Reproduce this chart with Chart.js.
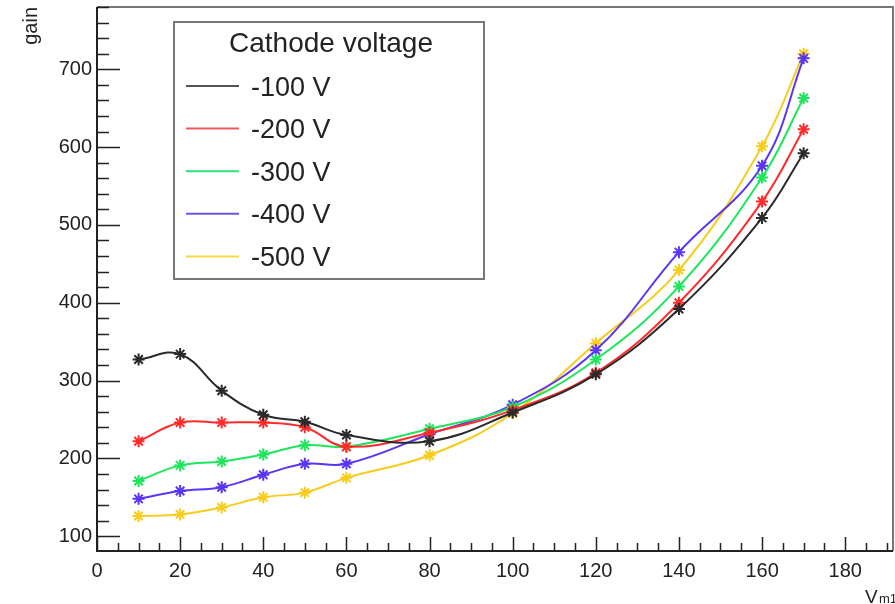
<!DOCTYPE html>
<html>
<head>
<meta charset="utf-8">
<title>gain vs Vm1</title>
<script src="https://cdn.jsdelivr.net/npm/chart.js@4.4.0/dist/chart.umd.min.js"></script>
<style>
  html, body { margin: 0; padding: 0; background: #fff; }
  #gainChart { display: block; }
</style>
</head>
<body>
<canvas id="gainChart" width="895" height="604"></canvas>
<script>
// Vm1 values where the gain was measured
const vm1 = [10, 20, 30, 40, 50, 60, 80, 100, 120, 140, 160, 170]

// gain for each cathode voltage
const gain100 = [327, 334, 287, 256, 247, 230, 222, 259, 308, 392, 509, 592]
const gain200 = [222, 246, 246, 246, 240, 215, 233, 262, 310, 400, 530, 623]
const gain300 = [171, 191, 196, 205, 217, 215, 238, 266, 327, 421, 561, 663]
const gain400 = [148, 158, 163, 179, 193, 193, 231, 269, 339, 465, 576, 714]
const gain500 = [126, 128, 137, 150, 156, 175, 204, 258, 348, 442, 601, 720]

const seriesLabels = ['-100 V', '-200 V', '-300 V', '-400 V', '-500 V']
const seriesColors = ['#2a2a2a', '#ff2b2b', '#1ee65c', '#5b35f5', '#f7cc1c']
const legendColors = ['#555555', '#ee5a5a', '#2ee07a', '#6a55ea', '#f3d84a']

const xTicks = [0, 20, 40, 60, 80, 100, 120, 140, 160, 180]
const yTicks = [100, 200, 300, 400, 500, 600, 700]

const fontFamily = '"Liberation Sans", Arial, Helvetica, sans-serif'
const inkColor = '#222'

let allGain = [gain100, gain200, gain300, gain400, gain500]

let datasets = allGain.map((g, i) => ({
    label: seriesLabels[i],
    data: g.map((v, j) => ({ x: vm1[j], y: v })),
    borderColor: seriesColors[i],
    backgroundColor: seriesColors[i],
    pointBorderColor: seriesColors[i],
    borderWidth: 2,
    pointStyle: 'star',
    pointRadius: 6,
    pointBorderWidth: 2,
    tension: 0.4,
    fill: false
}))

// no extra room for edge labels, the frame is fixed
function noPadding(s) {
    s.paddingTop = 0
    s.paddingBottom = 0
    s.paddingLeft = 0
    s.paddingRight = 0
}

// ROOT-like frame: ticks inside, legend box, axis titles
const rootFrame = {
    id: 'rootFrame',
    afterDraw(chart) {
        const ctx = chart.ctx
        const area = chart.chartArea
        const xs = chart.scales.x
        const ys = chart.scales.y
        ctx.save()

        // top + right border
        ctx.strokeStyle = '#777'
        ctx.lineWidth = 2
        ctx.beginPath()
        ctx.moveTo(area.left, area.top)
        ctx.lineTo(area.right, area.top)
        ctx.lineTo(area.right, area.bottom)
        ctx.stroke()

        // axes
        ctx.strokeStyle = inkColor
        ctx.lineWidth = 2
        ctx.beginPath()
        ctx.moveTo(area.left, area.top)
        ctx.lineTo(area.left, area.bottom)
        ctx.lineTo(area.right, area.bottom)
        ctx.stroke()

        // x ticks
        ctx.lineWidth = 1.5
        ctx.beginPath()
        for (let v = 0; v <= xs.max; v += 5) {
            let px = Math.round(xs.getPixelForValue(v)) + 0.5
            let len = v % 20 === 0 ? 14 : 8
            ctx.moveTo(px, area.bottom)
            ctx.lineTo(px, area.bottom - len)
        }
        // y ticks
        for (let v = 100; v <= ys.max; v += 20) {
            let py = Math.round(ys.getPixelForValue(v)) + 0.5
            let len = v % 100 === 0 ? 23 : 12
            ctx.moveTo(area.left, py)
            ctx.lineTo(area.left + len, py)
        }
        ctx.stroke()

        // legend
        const lx = 174, ly = 22, lw = 310, lh = 257
        ctx.fillStyle = '#fff'
        ctx.fillRect(lx, ly, lw, lh)
        ctx.strokeStyle = '#777'
        ctx.lineWidth = 2
        ctx.strokeRect(lx, ly, lw, lh)
        ctx.fillStyle = inkColor
        ctx.font = '28px ' + fontFamily
        ctx.textAlign = 'center'
        ctx.textBaseline = 'alphabetic'
        ctx.fillText('Cathode voltage', lx + lw / 2 + 2, 52)
        ctx.font = '27px ' + fontFamily
        ctx.textAlign = 'left'
        chart.data.datasets.forEach((ds, i) => {
            let y = 86 + i * 42.6
            ctx.strokeStyle = legendColors[i]
            ctx.lineWidth = 2
            ctx.beginPath()
            ctx.moveTo(186, y)
            ctx.lineTo(239, y)
            ctx.stroke()
            ctx.fillStyle = inkColor
            ctx.fillText(ds.label, 251, y + 9.5)
        })

        // axis titles
        ctx.fillStyle = inkColor
        ctx.font = '20px ' + fontFamily
        ctx.save()
        ctx.translate(37, 7)
        ctx.rotate(-Math.PI / 2)
        ctx.textAlign = 'right'
        ctx.fillText('gain', 0, 0)
        ctx.restore()

        ctx.textAlign = 'left'
        ctx.font = '19px ' + fontFamily
        ctx.fillText('V', 865, 603)
        ctx.font = '13px ' + fontFamily
        ctx.fillText('m1', 879, 603)

        ctx.restore()
    }
}

new Chart(document.getElementById('gainChart'), {
    type: 'line',
    data: { datasets: datasets },
    options: {
        responsive: false,
        animation: false,
        layout: { autoPadding: false, padding: { top: 7, right: 2, left: 0, bottom: 0 } },
        plugins: {
            legend: { display: false },
            tooltip: { enabled: false }
        },
        scales: {
            x: {
                type: 'linear',
                min: 0,
                max: 191.5,
                afterBuildTicks: s => { s.ticks = xTicks.map(v => ({ value: v })) },
                afterFit: s => { s.height = 53; noPadding(s) },
                grid: { display: false, drawTicks: false },
                border: { display: false },
                ticks: {
                    color: inkColor,
                    padding: 8,
                    maxRotation: 0,
                    font: { family: fontFamily, size: 20 }
                }
            },
            y: {
                type: 'linear',
                min: 81,
                max: 780,
                afterBuildTicks: s => { s.ticks = yTicks.map(v => ({ value: v })) },
                afterFit: s => { s.width = 97; noPadding(s) },
                grid: { display: false, drawTicks: false },
                border: { display: false },
                ticks: {
                    color: inkColor,
                    padding: 5,
                    font: { family: fontFamily, size: 20 }
                }
            }
        }
    },
    plugins: [rootFrame]
})
</script>
</body>
</html>
